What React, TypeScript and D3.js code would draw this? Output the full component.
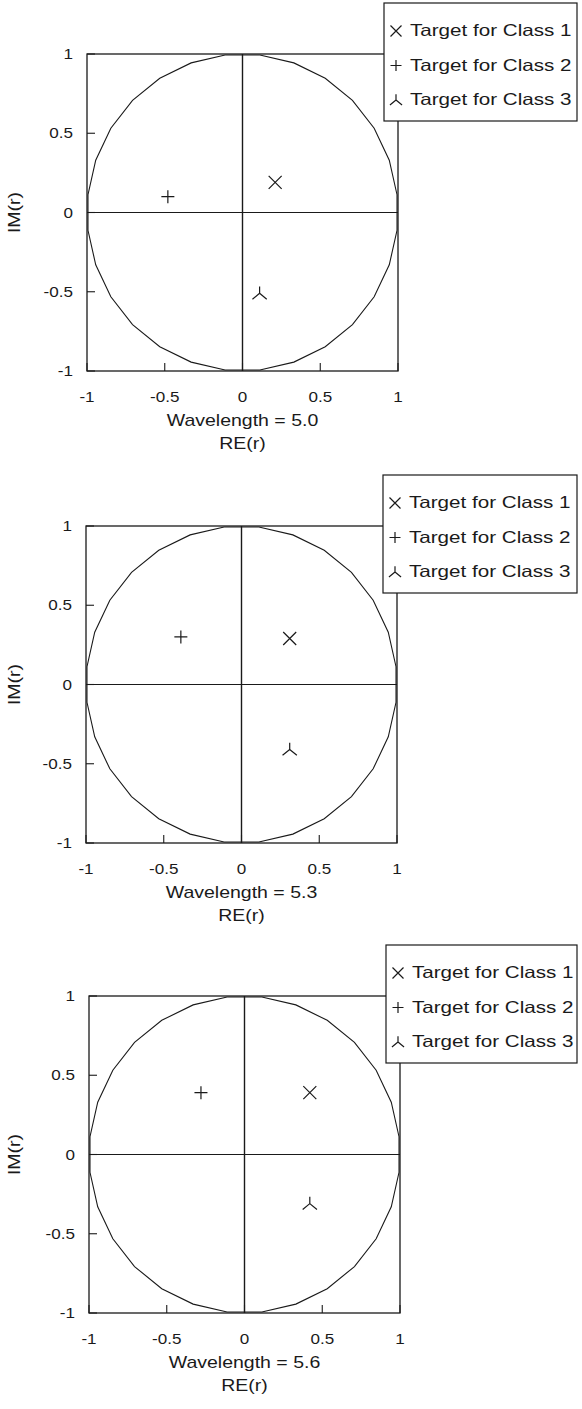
import React from "react";
import { scaleLinear, line } from "d3";

// one panel per wavelength
const wavelengths = ["5.0", "5.3", "5.6"];
const legendLabels = ["Target for Class 1", "Target for Class 2", "Target for Class 3"];

// target positions (RE, IM)
const class1Re = [0.21, 0.31, 0.42];
const class1Im = [0.19, 0.29, 0.39];
const class2Re = [-0.48, -0.39, -0.28];
const class2Im = [0.1, 0.3, 0.39];
const class3Re = [0.11, 0.31, 0.42];
const class3Im = [-0.51, -0.41, -0.31];

const tickValues = [-1, -0.5, 0, 0.5, 1];
const tickLabels = ["-1", "-0.5", "0", "0.5", "1"];

const W = 582;
const H = 1409;
const boxW = 311;
const boxH = 317;
const panelLeft = [87, 86, 89];
const panelTop = [54, 526, 996];
const ink = "#1a1a1a";
const font = "'Liberation Sans', Arial, Helvetica, sans-serif";

// unit circle drawn as a coarse polygon, like the original plot
const circleSteps = 28;
const circlePts: [number, number][] = [];
for (let i = 0; i <= circleSteps; i++) {
  const a = ((i + 0.5) / circleSteps) * 2 * Math.PI;
  circlePts.push([Math.cos(a), Math.sin(a)]);
}

const Txt = ({ x, y, size, anchor = "start", rotate = 0, stretch = 1.22, children }: any) => (
  <text
    transform={`translate(${x},${y}) rotate(${rotate}) scale(${stretch},1)`}
    fontSize={size}
    fontFamily={font}
    textAnchor={anchor}
    fill={ink}
  >
    {children}
  </text>
);

const Marker = ({ kind, x, y, s }: { kind: number; x: number; y: number; s: number }) => {
  if (kind === 0)
    return (
      <path
        d={`M${x - s},${y - s}L${x + s},${y + s}M${x - s},${y + s}L${x + s},${y - s}`}
        stroke={ink}
        strokeWidth={1.2}
      />
    );
  if (kind === 1)
    return (
      <path d={`M${x - s},${y}L${x + s},${y}M${x},${y - s}L${x},${y + s}`} stroke={ink} strokeWidth={1.2} />
    );
  const dx = s * 1.1;
  const dy = s * 0.9;
  return (
    <path
      d={`M${x},${y}L${x},${y - s * 1.05}M${x},${y}L${x - dx},${y + dy}M${x},${y}L${x + dx},${y + dy}`}
      stroke={ink}
      strokeWidth={1.2}
      fill="none"
    />
  );
};

const Panel = ({ i }: { i: number }) => {
  const left = panelLeft[i];
  const top = panelTop[i];
  const x = scaleLinear().domain([-1, 1]).range([left, left + boxW]);
  const y = scaleLinear().domain([-1, 1]).range([top + boxH, top]);
  const circle = line<[number, number]>()
    .x((d) => x(d[0]))
    .y((d) => y(d[1]));
  const bottom = top + boxH;
  const points = [
    [class1Re[i], class1Im[i]],
    [class2Re[i], class2Im[i]],
    [class3Re[i], class3Im[i]],
  ];
  const legX = left + boxW - 14;
  const legY = top - 51;

  return (
    <g>
      <rect x={left} y={top} width={boxW} height={boxH} fill="#fff" stroke={ink} strokeWidth={1.3} />
      <path d={circle(circlePts) || ""} fill="none" stroke={ink} strokeWidth={1.1} />
      <line x1={x(-1)} x2={x(1)} y1={y(0)} y2={y(0)} stroke={ink} strokeWidth={1.1} />
      <line x1={x(0)} x2={x(0)} y1={y(-1)} y2={y(1)} stroke={ink} strokeWidth={1.4} />
      {tickValues.map((v, k) => (
        <g key={k}>
          <line x1={x(v)} x2={x(v)} y1={bottom} y2={bottom - 8} stroke={ink} strokeWidth={1.1} />
          <line x1={left} x2={left + 8} y1={y(v)} y2={y(v)} stroke={ink} strokeWidth={1.1} />
          <Txt x={x(v)} y={bottom + 31} size={14} anchor="middle">
            {tickLabels[k]}
          </Txt>
          <Txt x={left - 14} y={y(v) + 5} size={14} anchor="end">
            {tickLabels[k]}
          </Txt>
        </g>
      ))}
      {points.map((p, k) => (
        <Marker key={k} kind={k} x={x(p[0])} y={y(p[1])} s={6.5} />
      ))}
      <Txt x={(x(-1) + x(1)) / 2} y={bottom + 55} size={16} anchor="middle">
        {`Wavelength = ${wavelengths[i]}`}
      </Txt>
      <Txt x={(x(-1) + x(1)) / 2} y={bottom + 78} size={16} anchor="middle">
        RE(r)
      </Txt>
      <Txt x={20} y={y(0)} size={16} anchor="middle" rotate={-90}>
        IM(r)
      </Txt>
      <rect x={legX} y={legY} width={577 - legX} height={118} fill="#fff" stroke={ink} strokeWidth={1.2} />
      {legendLabels.map((lab, k) => (
        <g key={k}>
          <Marker kind={k} x={legX + 12} y={legY + 28 + k * 34.5} s={5.5} />
          <Txt x={legX + 26} y={legY + 33 + k * 34.5} size={16.5} stretch={1.25}>
            {lab}
          </Txt>
        </g>
      ))}
    </g>
  );
};

export default function App() {
  return (
    <svg
      width={W}
      height={H}
      viewBox={`0 0 ${W} ${H}`}
      style={{ position: "absolute", left: 0, top: 0, background: "#fff" }}
    >
      {wavelengths.map((_, i) => (
        <Panel key={i} i={i} />
      ))}
    </svg>
  );
}
